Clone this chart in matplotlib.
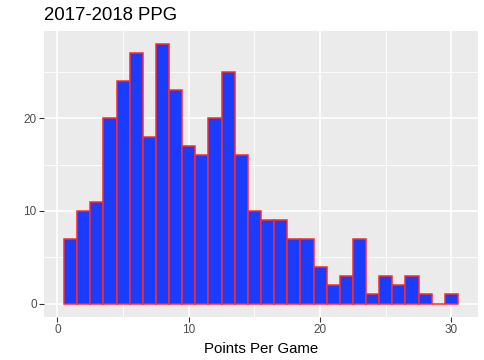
import numpy as np
import matplotlib
matplotlib.use('Agg')
import matplotlib.pyplot as plt

# histogram bins centred on whole points per game, width 1
bin_centers = list(range(1, 31))
counts = [7, 10, 11, 20, 24, 27, 18, 28, 23, 17, 16, 20, 25, 16, 10,
          9, 9, 7, 7, 4, 2, 3, 7, 1, 3, 2, 3, 1, 0, 1]
x_ticks = [0, 10, 20, 30]
y_ticks = [0, 10, 20]
title = '2017-2018 PPG'
x_label = 'Points Per Game'

plt.rcParams['font.family'] = ['Liberation Sans', 'DejaVu Sans']

fig = plt.figure(figsize=(4.85, 3.6), dpi=100)
ax = fig.add_axes([44.3 / 485, 1 - 316.7 / 360, (477.7 - 44.3) / 485, (316.7 - 31) / 360])
ax.set_facecolor('#EBEBEB')

ax.bar(bin_centers, counts, width=1.0, color='#1A3CFF', edgecolor='#FF2A2A',
       linewidth=1.1, zorder=3)

x_min, x_max = 0.5, 30.5
ax.set_xlim(x_min - 0.05 * (x_max - x_min), x_max + 0.05 * (x_max - x_min))
ax.set_ylim(-0.05 * max(counts), 1.05 * max(counts))

ax.set_xticks(x_ticks)
ax.set_yticks(y_ticks)
ax.set_xticks([5, 15, 25], minor=True)
ax.set_yticks([5, 15, 25], minor=True)
ax.grid(which='major', color='white', linewidth=1.2, zorder=0)
ax.grid(which='minor', color='white', linewidth=0.6, zorder=0)
ax.set_axisbelow(True)

ax.tick_params(which='major', length=3.5, width=0.8, color='#333333',
               labelsize=8.5, labelcolor='#4D4D4D', pad=2)
ax.tick_params(which='minor', length=0)
for s in ax.spines.values():
    s.set_visible(False)

ax.set_xlabel(x_label, fontsize=10.8, color='black', labelpad=4)
fig.text(44.3 / 485, 1 - 20.5 / 360, title, fontsize=13.4, color='black',
         ha='left', va='baseline')

fig.savefig('out.png', dpi=100)
